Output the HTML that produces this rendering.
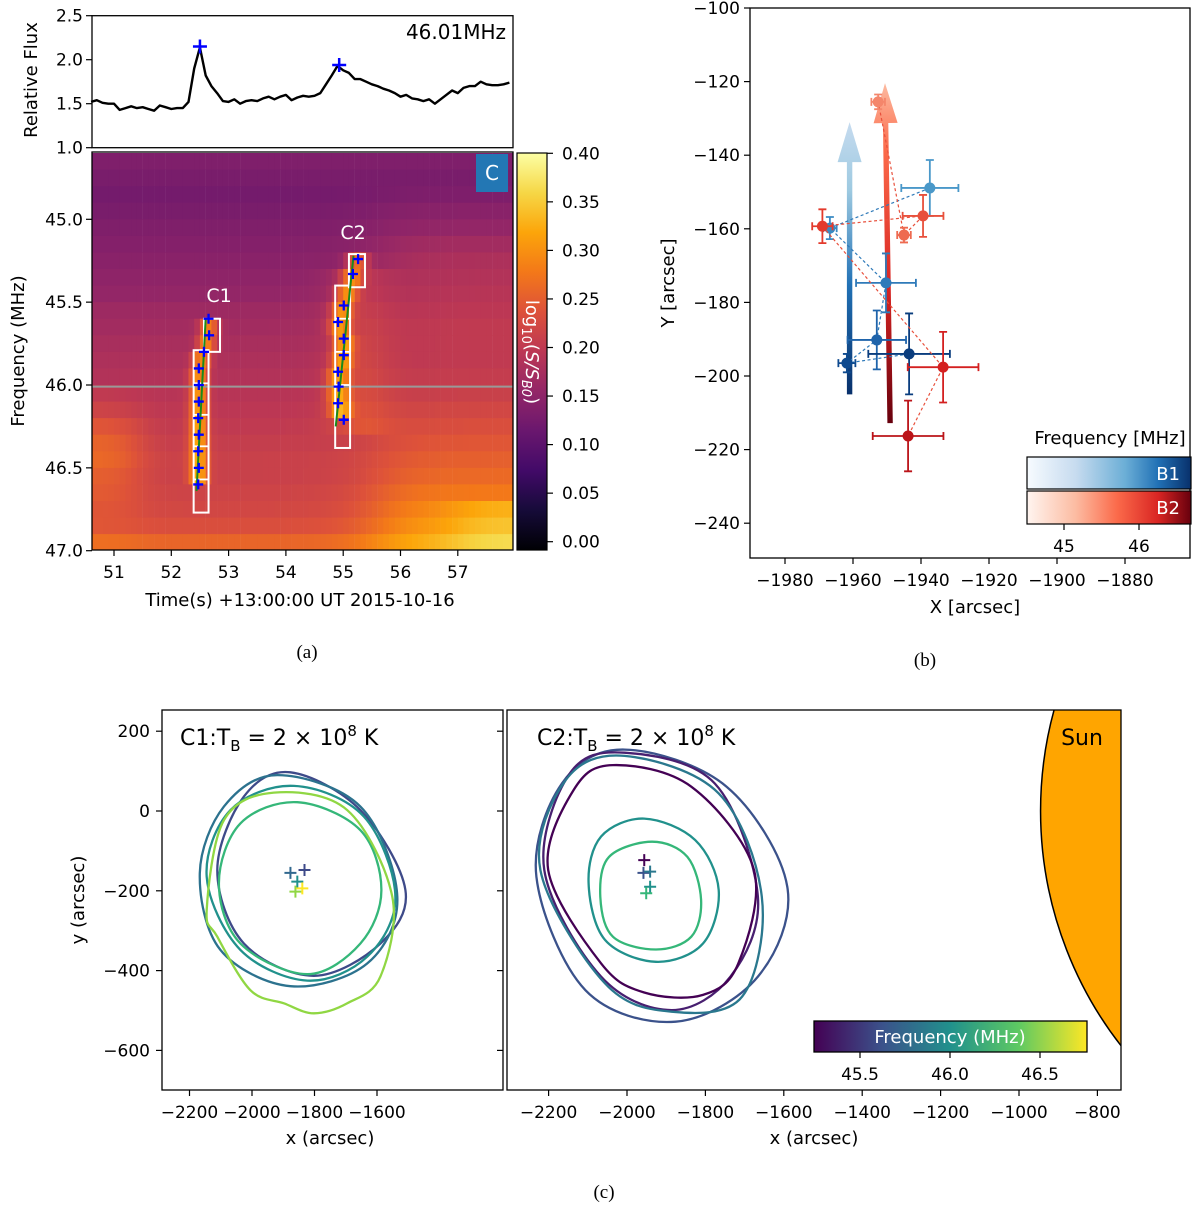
<!DOCTYPE html>
<html><head><meta charset="utf-8"><style>
html,body{margin:0;padding:0;background:#fff;}
svg{display:block;font-family:"DejaVu Sans","Liberation Sans",sans-serif;}
.tk{font-size:17px;fill:#000;}
.cap{font-family:"Liberation Serif",serif;font-size:19px;}
</style></head><body>
<svg id="fig" width="1200" height="1208" viewBox="0 0 1200 1208" xmlns="http://www.w3.org/2000/svg">
<defs>
<linearGradient id="infernoV" x1="0" y1="1" x2="0" y2="0"></linearGradient>
<linearGradient id="viridisH" x1="0" y1="0" x2="1" y2="0"></linearGradient>
<linearGradient id="bluesH" x1="0" y1="0" x2="1" y2="0"><stop offset="0" stop-color="#f7fbff"/><stop offset="0.3" stop-color="#c6dbef"/><stop offset="0.6" stop-color="#6baed6"/><stop offset="0.8" stop-color="#2171b5"/><stop offset="1" stop-color="#08306b"/></linearGradient>
<linearGradient id="redsH" x1="0" y1="0" x2="1" y2="0"><stop offset="0" stop-color="#fff5f0"/><stop offset="0.3" stop-color="#fcbba1"/><stop offset="0.55" stop-color="#fb6a4a"/><stop offset="0.8" stop-color="#d92523"/><stop offset="1" stop-color="#67000d"/></linearGradient>
<linearGradient id="blueArrow" x1="0" y1="1" x2="0" y2="0"><stop offset="0" stop-color="#08306b"/><stop offset="0.4" stop-color="#2171b5"/><stop offset="0.75" stop-color="#9ecae1"/><stop offset="1" stop-color="#c6dbef"/></linearGradient>
<linearGradient id="redArrow" x1="0" y1="1" x2="0" y2="0"><stop offset="0" stop-color="#67000d"/><stop offset="0.4" stop-color="#d92523"/><stop offset="0.8" stop-color="#fb6a4a"/><stop offset="1" stop-color="#fcbba1"/></linearGradient>
<clipPath id="clipHeat"><rect x="92" y="152" width="421" height="398"/></clipPath>
<clipPath id="clipC2"><rect x="507" y="710" width="614" height="380"/></clipPath>
</defs>
<g id="gA"></g>
<g id="gB"></g>
<g id="gC"></g>
<text class="cap" x="307" y="658" text-anchor="middle">(a)</text>
<text class="cap" x="925" y="666" text-anchor="middle">(b)</text>
<text class="cap" x="604" y="1198" text-anchor="middle">(c)</text>
</svg>
<script>
// ---------- DATA ----------
const fluxT0 = 50.6;
const fluxValues = [1.52,1.54,1.51,1.50,1.50,1.43,1.45,1.47,1.45,1.46,1.44,1.42,1.48,1.46,1.44,1.45,1.45,1.52,1.90,2.14,1.82,1.70,1.62,1.53,1.52,1.55,1.50,1.53,1.54,1.53,1.56,1.58,1.55,1.58,1.60,1.54,1.57,1.59,1.58,1.59,1.62,1.72,1.82,1.93,1.88,1.85,1.78,1.78,1.75,1.72,1.70,1.67,1.65,1.62,1.58,1.60,1.56,1.55,1.53,1.55,1.50,1.55,1.60,1.65,1.62,1.68,1.70,1.70,1.75,1.72,1.71,1.71,1.72,1.74];
const fluxPeakT = [52.5, 54.93];
const fluxPeakV = [2.15, 1.94];
const fluxTicks = [1.0,1.5,2.0,2.5];
const timeTicks = [51,52,53,54,55,56,57];
const freqTicks = [45.0,45.5,46.0,46.5,47.0];
const cbarTicks = [0.00,0.05,0.10,0.15,0.20,0.25,0.30,0.35,0.40];
const heatRowBase = [0.14,0.135,0.13,0.135,0.14,0.145,0.15,0.155,0.16,0.17,0.175,0.18,0.185,0.19,0.195,0.20,0.205,0.21,0.215,0.215,0.22,0.225,0.235,0.26];
const heatRightBoost = [0.00,0.00,0.01,0.015,0.02,0.03,0.035,0.035,0.035,0.03,0.03,0.025,0.02,0.02,0.02,0.025,0.03,0.035,0.04,0.05,0.06,0.07,0.075,0.07];
const heatLeftBoost = [0,0,0,0,0,0,0,0,0,0,0,0,0,0,0.01,0.02,0.04,0.05,0.05,0.04,0.03,0.02,0.01,0.01];
const c1Freq = [46.6,46.5,46.4,46.3,46.2,46.1,46.0,45.9,45.8,45.7,45.6];
const c1Time = [52.47,52.48,52.47,52.48,52.47,52.48,52.48,52.48,52.57,52.66,52.65];
const c2Freq = [46.21,46.11,46.01,45.92,45.82,45.72,45.62,45.52,45.33,45.24];
const c2Time = [55.01,54.91,54.92,54.91,55.01,55.01,54.91,55.01,55.17,55.26];
const burstAmp = 0.11;
const bX = [-1937.4,-1966.8,-1950.3,-1953.0,-1961.8,-1943.5];
const bY = [-148.9,-159.8,-174.7,-190.2,-196.5,-194.0];
const bXerr = [8.4,2.0,8.8,8.6,2.5,12.0];
const bYerr = [7.6,3.0,8.0,8.0,2.5,11.0];
const bColors = ['#4a98c9','#3a8ac2','#2f7ab9','#1f64ab','#0e4a8f','#0a3d7e'];
const rX = [-1952.6,-1945.0,-1939.4,-1969.0,-1933.5,-1943.8];
const rY = [-125.5,-161.7,-156.5,-159.3,-197.6,-216.3];
const rXerr = [2.0,2.0,6.0,3.0,10.4,10.4];
const rYerr = [2.0,2.0,5.7,4.6,9.6,9.6];
const rColors = ['#f4866b','#ee6a50','#e8503c','#e33a2c','#d42020','#bb1419'];
const bXTicks = [-1980,-1960,-1940,-1920,-1900,-1880];
const bYTicks = [-100,-120,-140,-160,-180,-200,-220,-240];
const c1Contours = [
 {c:'#3e4a89', x:[-1877,-1653,-1509,-1589,-1802,-2026,-2111,-2026], y:[97,2,-198,-332,-413,-332,-148,36]},
 {c:'#2c728e', x:[-1919,-1653,-1535,-1631,-1877,-2101,-2167,-2090], y:[90,11,-215,-382,-439,-348,-156,11]},
 {c:'#21918c', x:[-1866,-1642,-1541,-1631,-1823,-2037,-2145,-2069], y:[63,-14,-215,-365,-425,-348,-165,2]},
 {c:'#35b779', x:[-1855,-1653,-1586,-1653,-1823,-2037,-2106,-2037], y:[22,-48,-198,-332,-409,-332,-181,-31]},
 {c:'#90d743', x:[-1930,-1695,-1551,-1589,-1695,-1802,-1898,-2005,-2111,-2145,-2090], y:[46,2,-215,-415,-482,-507,-482,-449,-315,-248,-23]}
];
const c1CrossX = [-1877,-1832,-1855,-1861,-1839];
const c1CrossY = [-155,-148,-177,-202,-194];
const c1CrossC = ['#31688e','#3e4a89','#21918c','#90d743','#fde725'];
const c2Contours = [
 {c:'#3b528b', x:[-2006,-1746,-1591,-1666,-1876,-2106,-2231,-2166], y:[154,61,-190,-415,-528,-449,-165,69]},
 {c:'#481f70', x:[-2006,-1776,-1666,-1736,-1886,-2066,-2211,-2146], y:[146,69,-215,-415,-499,-415,-148,94]},
 {c:'#440154', x:[-2036,-1836,-1676,-1716,-1806,-1956,-2066,-2201,-2136], y:[115,61,-148,-382,-461,-455,-382,-148,53]},
 {c:'#2a788e', x:[-2006,-1766,-1656,-1706,-1886,-2056,-2221,-2156], y:[138,44,-215,-465,-503,-432,-148,78]},
 {c:'#21918c', x:[-1956,-1826,-1766,-1806,-1926,-2056,-2098,-2066], y:[-19,-73,-198,-332,-378,-323,-181,-64]},
 {c:'#35b779', x:[-1936,-1846,-1811,-1836,-1926,-2036,-2068,-2046], y:[-77,-115,-223,-315,-347,-315,-215,-115]}
];
const c2CrossX = [-1956,-1958,-1941,-1941,-1951];
const c2CrossY = [-123,-155,-152,-190,-206];
const c2CrossC = ['#440154','#3b528b','#2a788e','#21918c','#35b779'];
const sunRadius = 945;
const cLeftXTicks = [-2200,-2000,-1800,-1600];
const cRightXTicks = [-2200,-2000,-1800,-1600,-1400,-1200,-1000,-800];
const cYTicks = [200,0,-200,-400,-600];
const cbarFreqTicks = [45.5,46.0,46.5];
const bLegendTicks = [45,46];

// ---------- helpers ----------
const NS='http://www.w3.org/2000/svg';
function mk(tag, attrs, parent, txt){const e=document.createElementNS(NS,tag);for(const k in attrs)e.setAttribute(k,attrs[k]);if(txt!==undefined)e.textContent=txt;parent.appendChild(e);return e;}
const gA=document.getElementById('gA'),gB=document.getElementById('gB'),gC=document.getElementById('gC');
const inferno=[[0,0,0,4],[0.1,22,11,57],[0.2,66,10,104],[0.3,106,23,110],[0.4,147,38,103],[0.5,188,55,84],[0.6,221,81,58],[0.7,243,120,25],[0.8,252,165,10],[0.9,246,215,70],[1,252,255,164]];
const viridis=[[0,68,1,84],[0.25,59,82,139],[0.5,33,145,140],[0.75,94,201,98],[1,253,231,37]];
function cmap(m,v){v=Math.max(0,Math.min(1,v));for(let i=1;i<m.length;i++){if(v<=m[i][0]){const a=m[i-1],b=m[i],f=(v-a[0])/(b[0]-a[0]);return 'rgb('+[1,2,3].map(j=>Math.round(a[j]+(b[j]-a[j])*f)).join(',')+')';}}}
function stops(id,m){const g=document.getElementById(id);m.forEach(s=>mk('stop',{offset:s[0],'stop-color':'rgb('+s[1]+','+s[2]+','+s[3]+')'},g));}
stops('infernoV',inferno);stops('viridisH',viridis);

// ---------- Panel A ----------
const tx = t => 114 + (t-51)*57.3;
const fy = v => 147.7 - (v-1)*88.0;
const ffy = f => 219.3 + (f-45)*165.7;
const cy = v => 541.7 - v*(541.7-153.3)/0.4;

const fluxAx = mk('g',{},gA);


let d='';
fluxValues.forEach((v,i)=>{const t=fluxT0+i*0.1;const x=Math.min(tx(t),513);d+=(i?'L':'M')+x.toFixed(1)+','+fy(v).toFixed(1);});
const fl=mk('path',{d:d,fill:'none',stroke:'#000','stroke-width':2.4,'stroke-linejoin':'round'},fluxAx);


fluxPeakT.forEach((t,i)=>{const x=tx(t),y=fy(fluxPeakV[i]);const p=mk('path',{d:`M${x-7},${y}H${x+7}M${x},${y-7}V${y+7}`,stroke:'#0000ff','stroke-width':2.5},fluxAx);
 
 });
mk('rect',{x:92,y:15.7,width:421,height:132,fill:'none',stroke:'#000','stroke-width':1.3},fluxAx);
fluxTicks.forEach(v=>{const y=fy(v);mk('line',{x1:86,x2:92,y1:y,y2:y,stroke:'#000','stroke-width':1.2},fluxAx);
 const t=mk('text',{class:'tk',x:83,y:y+6,'text-anchor':'end'},fluxAx,v.toFixed(1));
 
 });
let lab=mk('text',{x:37,y:80,'font-size':18,'text-anchor':'middle',transform:'rotate(-90 37 80)'},fluxAx,'Relative Flux');


lab=mk('text',{x:506,y:39,'font-size':20,'text-anchor':'end'},fluxAx,'46.01MHz');



const heat=mk('g',{'clip-path':'url(#clipHeat)'},gA);


function interpT(fr,ts,f){for(let i=1;i<fr.length;i++){const a=fr[i-1],b=fr[i];if((f<=a&&f>=b)){return ts[i-1]+(ts[i]-ts[i-1])*(a-f)/(a-b);}}return null;}
function sig(z){return 1/(1+Math.exp(-z));}
for(let r=0;r<24;r++){
 const f0=44.6+r*0.1, fc=f0+0.05;
 for(let c=0;c<74;c++){
  const t0=50.6+c*0.1, tc=t0+0.05;
  let v=heatRowBase[r];
  v+=heatRightBoost[r]*sig((tc-55.6)/0.35);
  if(r>=21) v+=0.035*sig((tc-57.0)/0.25);
  v+=heatLeftBoost[r]*sig((51.4-tc)/0.2);
  const t1=interpT(c1Freq,c1Time,fc); if(t1!==null){const dt=tc-t1; v+=burstAmp*Math.exp(-(dt*dt)/0.025);} 
  const t2=interpT(c2Freq,c2Time,fc); if(t2!==null){const dt=tc-t2; v+=burstAmp*Math.exp(-(dt*dt)/0.035);} 
  if(fc>45.3 && fc<46.3) v+=0.03*Math.exp(-(tc-55.3)*(tc-55.3)/0.3);
  const x=tx(t0), y=ffy(f0);
  mk('rect',{x:x.toFixed(1),y:y.toFixed(1),width:6.0,height:17.0,fill:cmap(inferno,v/0.4)},heat);
 }
}
mk('line',{x1:92,x2:513,y1:ffy(46.01),y2:ffy(46.01),stroke:'#999','stroke-width':2},heat);
const boxes=[[52.39,52.65,45.79,46.77],[52.57,52.85,45.60,45.80],[55.10,55.38,45.21,45.41],[54.86,55.12,45.40,46.38]];
boxes.forEach(b=>{const r=mk('rect',{x:tx(b[0]),y:ffy(b[2]),width:tx(b[1])-tx(b[0]),height:ffy(b[3])-ffy(b[2]),fill:'none',stroke:'#fff','stroke-width':2},heat);
 
 });
[[52.39,52.65,[45.99,46.18,46.37,46.57]],[54.86,55.12,[45.6,45.8,46.0]]].forEach(b=>b[2].forEach(f=>mk('line',{x1:tx(b[0]),x2:tx(b[1]),y1:ffy(f),y2:ffy(f),stroke:'#fff','stroke-width':1.8},heat)));
mk('line',{x1:tx(52.44),y1:ffy(46.64),x2:tx(52.6),y2:ffy(45.6),stroke:'#1a8a1a','stroke-width':2},heat);
mk('line',{x1:tx(54.87),y1:ffy(46.25),x2:tx(55.18),y2:ffy(45.22),stroke:'#1a8a1a','stroke-width':2},heat);
function plus(g,x,y,s,col,w){return mk('path',{d:`M${x-s},${y}H${x+s}M${x},${y-s}V${y+s}`,stroke:col,'stroke-width':w},g);}
c1Freq.forEach((f,i)=>{const p=plus(heat,tx(c1Time[i]),ffy(f),5,'#0000ff',2.3);
 
 });
c2Freq.forEach((f,i)=>{const p=plus(heat,tx(c2Time[i]),ffy(f),5,'#0000ff',2.3);
 
 });
lab=mk('text',{x:219,y:302,'font-size':19,fill:'#fff','text-anchor':'middle'},gA,'C1');


lab=mk('text',{x:353,y:239,'font-size':19,fill:'#fff','text-anchor':'middle'},gA,'C2');


const cb=mk('g',{},gA);


mk('rect',{x:476,y:154,width:32,height:38,fill:'#2377b4'},cb);
mk('text',{x:492,y:180,'font-size':20,fill:'#fff','text-anchor':'middle'},cb,'C');
mk('rect',{x:92,y:152,width:421,height:398,fill:'none',stroke:'#000','stroke-width':1.3},gA);
freqTicks.forEach(f=>{const y=ffy(f);mk('line',{x1:86,x2:92,y1:y,y2:y,stroke:'#000','stroke-width':1.2},gA);
 const t=mk('text',{class:'tk',x:83,y:y+6,'text-anchor':'end'},gA,f.toFixed(1));
 
 });
timeTicks.forEach(s=>{const x=tx(s);mk('line',{x1:x,x2:x,y1:550,y2:556,stroke:'#000','stroke-width':1.2},gA);
 const t=mk('text',{class:'tk',x:x,y:578,'text-anchor':'middle'},gA,String(s));
 
 });
lab=mk('text',{x:300,y:606,'font-size':18,'text-anchor':'middle'},gA,'Time(s) +13:00:00 UT 2015-10-16');


lab=mk('text',{x:24,y:351,'font-size':18,'text-anchor':'middle',transform:'rotate(-90 24 351)'},gA,'Frequency (MHz)');


const cbar=mk('g',{},gA);


mk('rect',{x:517,y:153,width:30,height:397,fill:'url(#infernoV)',stroke:'#000','stroke-width':1.2},cbar);
cbarTicks.forEach(v=>{const y=cy(v);mk('line',{x1:547,x2:553,y1:y,y2:y,stroke:'#000','stroke-width':1.2},cbar);
 const t=mk('text',{class:'tk',x:562,y:y+6},cbar,v.toFixed(2));
 
 });
const cl=mk('text',{x:526,y:352,'font-size':18,fill:'#fff','text-anchor':'middle',transform:'rotate(90 526 352)'},cbar);


mk('tspan',{},cl,'log');mk('tspan',{'font-size':13,dy:4},cl,'10');mk('tspan',{dy:-4},cl,'(');mk('tspan',{'font-style':'italic'},cl,'S/S');mk('tspan',{'font-size':13,dy:4,'font-style':'italic'},cl,'B0');mk('tspan',{dy:-4},cl,')');

// ---------- Panel B ----------
const bx = x => 785 + (x+1980)*3.4;
const by = y => 8 + (-100-y)*3.68;
const axB=mk('g',{},gB);
function arrow(x0,y0,x1,y1,grad){const X0=bx(x0),Y0=by(y0),X1=bx(x1),Y1=by(y1);
 const L=Math.hypot(X1-X0,Y1-Y0),ux=(X1-X0)/L,uy=(Y1-Y0)/L,nx=-uy,ny=ux;const hb=40,hw=12,sw=2.7;
 const bxp=X1-ux*hb,byp=Y1-uy*hb;
 const pts=[[X0+nx*sw,Y0+ny*sw],[bxp+nx*sw,byp+ny*sw],[bxp+nx*hw,byp+ny*hw],[X1,Y1],[bxp-nx*hw,byp-ny*hw],[bxp-nx*sw,byp-ny*sw],[X0-nx*sw,Y0-ny*sw]];
 return mk('polygon',{points:pts.map(p=>p[0].toFixed(1)+','+p[1].toFixed(1)).join(' '),fill:grad},axB);}
let ar=arrow(-1961,-205,-1961,-131,'url(#blueArrow)');


ar=arrow(-1949.1,-212.8,-1950.6,-120.4,'url(#redArrow)');


function series(X,Y,XE,YE,C,name){
 let dd='';X.forEach((x,i)=>{dd+=(i?'L':'M')+bx(x).toFixed(1)+','+by(Y[i]).toFixed(1);});
 const ln=mk('path',{d:dd,fill:'none',stroke:C[2],'stroke-width':1.2,'stroke-dasharray':'3,2.5'},axB);
 
 
 X.forEach((x,i)=>{const g=mk('g',{},axB);
  
  
  const px=bx(x),py=by(Y[i]),ex=XE[i]*3.4,ey=YE[i]*3.68,c=C[i];
  mk('path',{d:`M${px-ex},${py}H${px+ex}M${px},${py-ey}V${py+ey}M${px-ex},${py-4}V${py+4}M${px+ex},${py-4}V${py+4}M${px-4},${py-ey}H${px+4}M${px-4},${py+ey}H${px+4}`,stroke:c,'stroke-width':1.8,fill:'none'},g);
  mk('circle',{cx:px,cy:py,r:5.5,fill:c},g);});
}
series(bX,bY,bXerr,bYerr,bColors,'b1');
series(rX,rY,rXerr,rYerr,rColors,'b2');
mk('rect',{x:750,y:8,width:440,height:550,fill:'none',stroke:'#000','stroke-width':1.3},gB);
bXTicks.forEach(v=>{const x=bx(v);mk('line',{x1:x,x2:x,y1:558,y2:564,stroke:'#000','stroke-width':1.2},gB);
 const t=mk('text',{class:'tk',x:x,y:586,'text-anchor':'middle'},gB,'\u2212'+Math.abs(v));
 
 });
bYTicks.forEach(v=>{const y=by(v);mk('line',{x1:744,x2:750,y1:y,y2:y,stroke:'#000','stroke-width':1.2},gB);
 const t=mk('text',{class:'tk',x:740,y:y+6,'text-anchor':'end'},gB,'\u2212'+Math.abs(v));
 
 });
lab=mk('text',{x:975,y:613,'font-size':18,'text-anchor':'middle'},gB,'X [arcsec]');


lab=mk('text',{x:674,y:283,'font-size':18,'text-anchor':'middle',transform:'rotate(-90 674 283)'},gB,'Y [arcsec]');


const leg=mk('g',{},gB);


mk('text',{x:1110,y:444,'font-size':18,'text-anchor':'middle'},leg,'Frequency [MHz]');
mk('rect',{x:1027,y:457,width:164,height:32,fill:'url(#bluesH)',stroke:'#000','stroke-width':1.2},leg);
mk('rect',{x:1027,y:491,width:164,height:33,fill:'url(#redsH)',stroke:'#000','stroke-width':1.2},leg);
mk('text',{x:1180,y:480,'font-size':18,fill:'#fff','text-anchor':'end'},leg,'B1');
mk('text',{x:1180,y:514,'font-size':18,fill:'#fff','text-anchor':'end'},leg,'B2');
const lx = f => 1064 + (f-45)*75;
bLegendTicks.forEach(f=>{mk('line',{x1:lx(f),x2:lx(f),y1:524,y2:530,stroke:'#000','stroke-width':1.2},leg);mk('text',{class:'tk',x:lx(f),y:552,'text-anchor':'middle'},leg,String(f));});

// ---------- Panel C ----------
const ly = y => 811 - y*0.399;
const lxC = x => 252 + (x+2000)*0.3125;
const rxC = x => 627 + (x+2000)*0.392;
function smoothClosed(px,py){const n=px.length;let s=`M${px[0].toFixed(1)},${py[0].toFixed(1)}`;
 for(let i=0;i<n;i++){const p0=i-1<0?n-1:i-1,p1=i,p2=(i+1)%n,p3=(i+2)%n;
  const c1x=px[p1]+(px[p2]-px[p0])/6,c1y=py[p1]+(py[p2]-py[p0])/6,c2x=px[p2]-(px[p3]-px[p1])/6,c2y=py[p2]-(py[p3]-py[p1])/6;
  s+=`C${c1x.toFixed(1)},${c1y.toFixed(1)} ${c2x.toFixed(1)},${c2y.toFixed(1)} ${px[p2].toFixed(1)},${py[p2].toFixed(1)}`;}
 return s+'Z';}
const cL=mk('g',{},gC);


c1Contours.forEach(k=>{const p=mk('path',{d:smoothClosed(k.x.map(lxC),k.y.map(ly)),fill:'none',stroke:k.c,'stroke-width':2.3},cL);
 
 });
c1CrossX.forEach((x,i)=>{const p=plus(cL,lxC(x),ly(c1CrossY[i]),6,c1CrossC[i],2);
 
 });
mk('rect',{x:162,y:710,width:341,height:380,fill:'none',stroke:'#000','stroke-width':1.3},cL);
function title(g,x,lbl){const t=mk('text',{x:x,y:745,'font-size':22},g);
 
 
 mk('tspan',{},t,lbl+':T');mk('tspan',{'font-size':15,dy:6},t,'B');mk('tspan',{dy:-6},t,' = 2 \u00d7 10');mk('tspan',{'font-size':15,dy:-9},t,'8');mk('tspan',{dy:9},t,' K');}
title(cL,180,'C1');
cLeftXTicks.forEach(v=>{const x=lxC(v);mk('line',{x1:x,x2:x,y1:1090,y2:1096,stroke:'#000','stroke-width':1.2},cL);
 const t=mk('text',{class:'tk',x:x,y:1118,'text-anchor':'middle'},cL,'\u2212'+Math.abs(v));
 
 });
cYTicks.forEach(v=>{const y=ly(v);mk('line',{x1:156,x2:162,y1:y,y2:y,stroke:'#000','stroke-width':1.2},cL);
 mk('line',{x1:497,x2:503,y1:y,y2:y,stroke:'#000','stroke-width':1.2},cL);
 const t=mk('text',{class:'tk',x:150,y:y+6,'text-anchor':'end'},cL,(v<0?'\u2212':'')+Math.abs(v));
 
 });
lab=mk('text',{x:330,y:1144,'font-size':18,'text-anchor':'middle'},cL,'x (arcsec)');


lab=mk('text',{x:84,y:900,'font-size':18,'text-anchor':'middle',transform:'rotate(-90 84 900)'},cL,'y (arcsec)');


const cR=mk('g',{},gC);


const clipG=mk('g',{'clip-path':'url(#clipC2)'},cR);
const se=mk('ellipse',{cx:rxC(0),cy:ly(0),rx:sunRadius*0.392,ry:sunRadius*0.399,fill:'#ffa500',stroke:'#000','stroke-width':1.5},clipG);


lab=mk('text',{x:1082,y:745,'font-size':22,'text-anchor':'middle'},cR,'Sun');


c2Contours.forEach(k=>{const p=mk('path',{d:smoothClosed(k.x.map(rxC),k.y.map(ly)),fill:'none',stroke:k.c,'stroke-width':2.3},cR);
 
 });
c2CrossX.forEach((x,i)=>{const p=plus(cR,rxC(x),ly(c2CrossY[i]),6,c2CrossC[i],2);
 
 });
mk('rect',{x:507,y:710,width:614,height:380,fill:'none',stroke:'#000','stroke-width':1.3},cR);
title(cR,537,'C2');
cRightXTicks.forEach(v=>{const x=rxC(v);mk('line',{x1:x,x2:x,y1:1090,y2:1096,stroke:'#000','stroke-width':1.2},cR);
 const t=mk('text',{class:'tk',x:x,y:1118,'text-anchor':'middle'},cR,'\u2212'+Math.abs(v));
 
 });
lab=mk('text',{x:814,y:1144,'font-size':18,'text-anchor':'middle'},cR,'x (arcsec)');


const vc=mk('g',{},cR);


mk('rect',{x:814,y:1021,width:273,height:31,fill:'url(#viridisH)',stroke:'#000','stroke-width':1.3},vc);
mk('text',{x:950,y:1043,'font-size':18,fill:'#fff','text-anchor':'middle'},vc,'Frequency (MHz)');
const vx = f => 860 + (f-45.5)*180;
cbarFreqTicks.forEach(f=>{mk('line',{x1:vx(f),x2:vx(f),y1:1052,y2:1058,stroke:'#000','stroke-width':1.2},vc);mk('text',{class:'tk',x:vx(f),y:1080,'text-anchor':'middle'},vc,f.toFixed(1));});
</script>
</body></html>
